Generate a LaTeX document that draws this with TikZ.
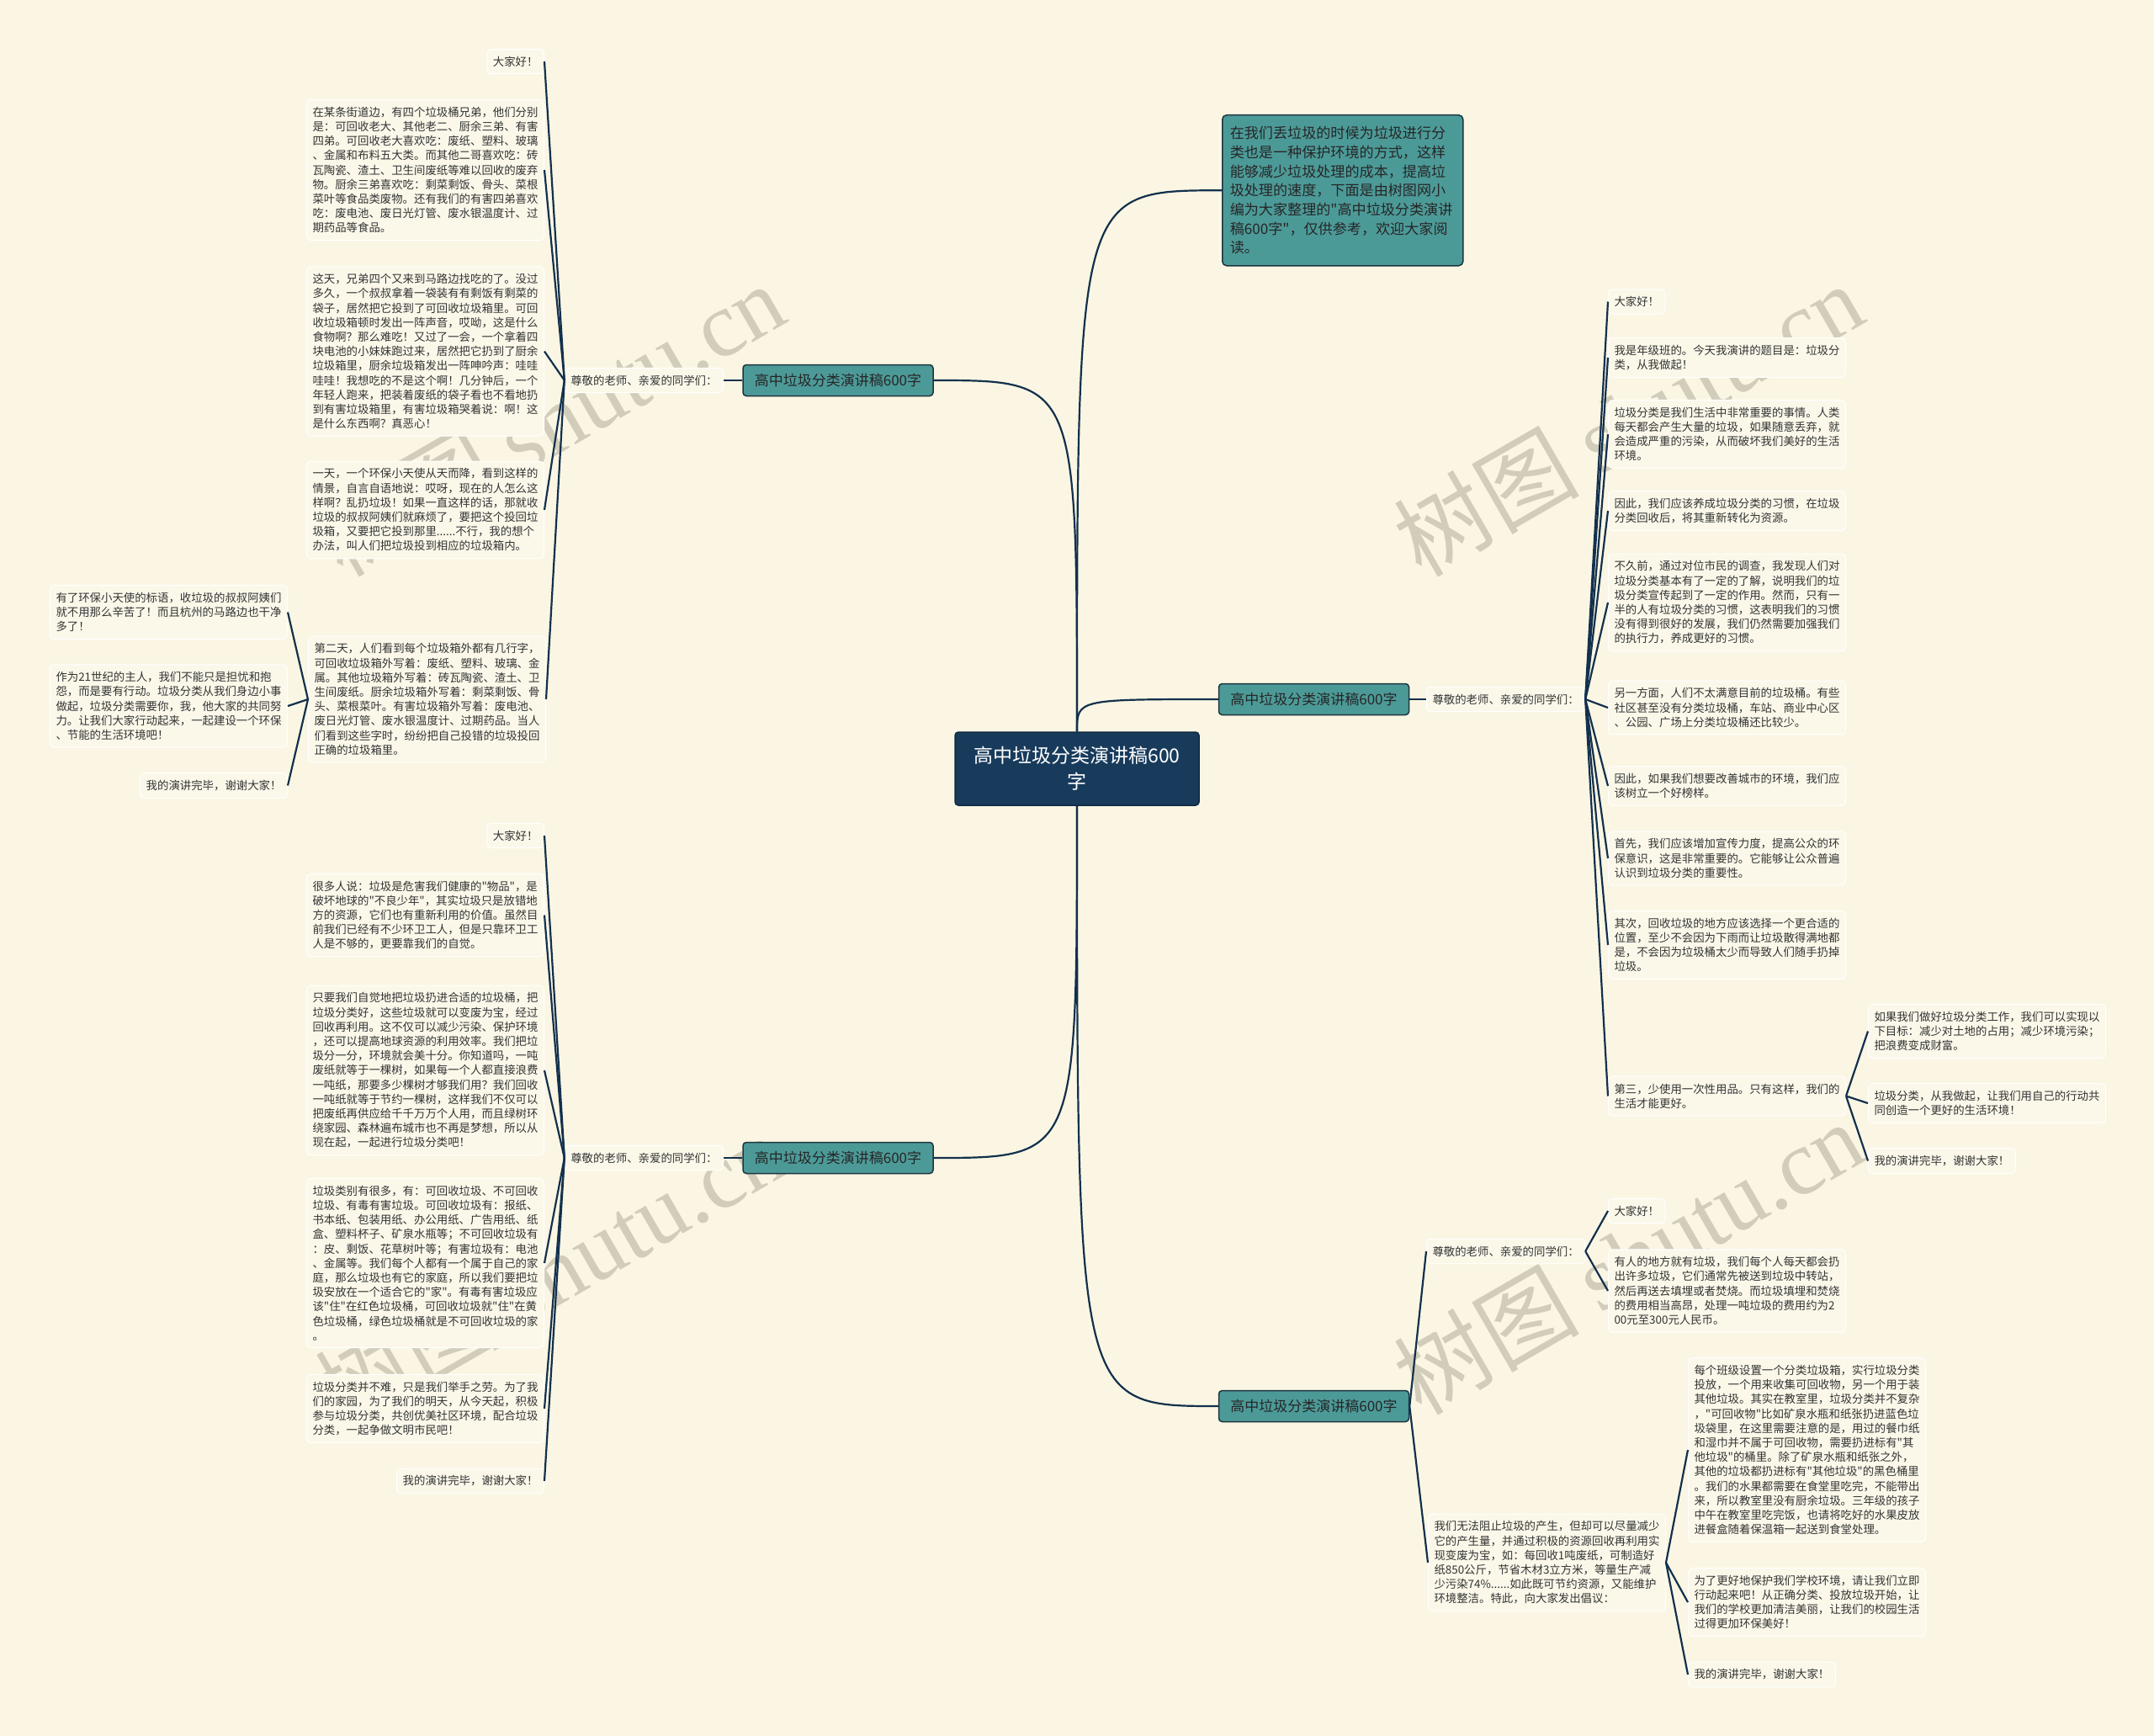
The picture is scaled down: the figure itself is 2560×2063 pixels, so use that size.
\documentclass[tikz,border=0pt]{standalone}
\usepackage{fontspec}
\newfontfamily\cjk{Noto Sans CJK SC}
\newfontfamily\wmserif{Liberation Serif}
\usetikzlibrary{calc}
\definecolor{bg}{HTML}{FAF6E3}
\definecolor{leaffill}{HTML}{FBF8EA}
\definecolor{leafline}{HTML}{FFFFFF}
\definecolor{conncol}{HTML}{13304D}
\definecolor{rootfill}{HTML}{183B5C}
\definecolor{tealfill}{HTML}{4C9A98}
\definecolor{tealline}{HTML}{1E3440}
\definecolor{txt}{HTML}{333333}
\definecolor{wm}{HTML}{D2CDBB}
\newcommand\sconn[2]{\draw[conn] (#1) .. controls ($(#1)!.5!(#2)$ |- #1) and ($(#1)!.5!(#2)$ |- #2) .. (#2);}
\newcommand\rconn[2]{\draw[conn] (#1) .. controls (#1 |- #2) .. (#2);}
\begin{document}
\begin{tikzpicture}[x=1pt,y=-1pt,
 leaf/.style={draw=leafline, line width=1pt, fill=leaffill, rounded corners=5pt, align=left, inner xsep=7pt, inner ysep=8.5pt, text=txt, font=\cjk\fontsize{13.4}{17.2}\selectfont},
 branch/.style={draw=tealline, line width=1.5pt, fill=tealfill, rounded corners=4pt, minimum width=226pt, minimum height=37pt, inner sep=2pt, text=black!85, font=\cjk\fontsize{17}{20}\selectfont},
 rootbox/.style={draw=rootfill!70!black, line width=1.5pt, fill=rootfill, rounded corners=4pt, minimum width=290pt, minimum height=87pt, align=center, text=white, font=\cjk\fontsize{23}{31}\selectfont},
 introbox/.style={draw=tealline, line width=1.5pt, fill=tealfill, rounded corners=5pt, text width=268pt, align=left, inner xsep=9pt, inner ysep=10pt, minimum height=179pt, text=black!85, font=\cjk\fontsize{17.1}{22.7}\selectfont},
 conn/.style={draw=conncol, line width=2.2pt},
 wmk/.style={text=wm, rotate=30, font=\fontsize{110}{120}\selectfont}
]
\fill[bg] (0,0) rectangle (2560,2063);
\useasboundingbox (0,0) rectangle (2560,2063);

% watermarks
\node[wmk] (w1) at (653,498) {\cjk 树图 \wmserif shutu.cn};
\node[wmk] (w2) at (653,1510) {\cjk 树图 \wmserif shutu.cn};
\node[wmk] (w3) at (1935,498) {\cjk 树图 \wmserif shutu.cn};
\node[wmk] (w4) at (1935,1494) {\cjk 树图 \wmserif shutu.cn};

% root, intro, branches
\node[rootbox] (root) at (1280,913.5) {高中垃圾分类演讲稿600\\字};
\node[introbox, anchor=north west] (intro) at (1452,136) {在我们丢垃圾的时候为垃圾进行分\\类也是一种保护环境的方式，这样\\能够减少垃圾处理的成本，提高垃\\圾处理的速度，下面是由树图网小\\编为大家整理的"高中垃圾分类演讲\\稿600字"，仅供参考，欢迎大家阅\\读。};
\node[branch] (b1) at (996,452) {高中垃圾分类演讲稿600字};
\node[branch] (b2) at (1561.5,831) {高中垃圾分类演讲稿600字};
\node[branch] (b3) at (996,1376) {高中垃圾分类演讲稿600字};
\node[branch] (b4) at (1561.5,1671) {高中垃圾分类演讲稿600字};

% sub nodes
\node[leaf, anchor=east] (s1) at (860,452) {尊敬的老师、亲爱的同学们：};
\node[leaf, anchor=west] (s2) at (1695,831) {尊敬的老师、亲爱的同学们：};
\node[leaf, anchor=east] (s3) at (860,1376) {尊敬的老师、亲爱的同学们：};
\node[leaf, anchor=west] (s4a) at (1695,1487) {尊敬的老师、亲爱的同学们：};
\node[leaf, anchor=west] (s4b) at (1697,1857) {我们无法阻止垃圾的产生，但却可以尽量减少\\它的产生量，并通过积极的资源回收再利用实\\现变废为宝，如：每回收1吨废纸，可制造好\\纸850公斤，节省木材3立方米，等量生产减\\少污染74\%......如此既可节约资源，又能维护\\环境整洁。特此，向大家发出倡议：};

% left group 1
\node[leaf, anchor=east] (a1) at (647,73) {大家好！};
\node[leaf, anchor=east] (a2) at (647,202) {在某条街道边，有四个垃圾桶兄弟，他们分别\\是：可回收老大、其他老二、厨余三弟、有害\\四弟。可回收老大喜欢吃：废纸、塑料、玻璃\\、金属和布料五大类。而其他二哥喜欢吃：砖\\瓦陶瓷、渣土、卫生间废纸等难以回收的废弃\\物。厨余三弟喜欢吃：剩菜剩饭、骨头、菜根\\菜叶等食品类废物。还有我们的有害四弟喜欢\\吃：废电池、废日光灯管、废水银温度计、过\\期药品等食品。};
\node[leaf, anchor=east] (a3) at (647,417.5) {这天，兄弟四个又来到马路边找吃的了。没过\\多久，一个叔叔拿着一袋装有有剩饭有剩菜的\\袋子，居然把它投到了可回收垃圾箱里。可回\\收垃圾箱顿时发出一阵声音，哎呦，这是什么\\食物啊？那么难吃！又过了一会，一个拿着四\\块电池的小妹妹跑过来，居然把它扔到了厨余\\垃圾箱里，厨余垃圾箱发出一阵呻吟声：哇哇\\哇哇！我想吃的不是这个啊！几分钟后，一个\\年轻人跑来，把装着废纸的袋子看也不看地扔\\到有害垃圾箱里，有害垃圾箱哭着说：啊！这\\是什么东西啊？真恶心！};
\node[leaf, anchor=east] (a4) at (647,606) {一天，一个环保小天使从天而降，看到这样的\\情景，自言自语地说：哎呀，现在的人怎么这\\样啊？乱扔垃圾！如果一直这样的话，那就收\\垃圾的叔叔阿姨们就麻烦了，要把这个投回垃\\圾箱，又要把它投到那里......不行，我的想个\\办法，叫人们把垃圾投到相应的垃圾箱内。};
\node[leaf, anchor=east] (a5) at (649,831) {第二天，人们看到每个垃圾箱外都有几行字，\\可回收垃圾箱外写着：废纸、塑料、玻璃、金\\属。其他垃圾箱外写着：砖瓦陶瓷、渣土、卫\\生间废纸。厨余垃圾箱外写着：剩菜剩饭、骨\\头、菜根菜叶。有害垃圾箱外写着：废电池、\\废日光灯管、废水银温度计、过期药品。当人\\们看到这些字时，纷纷把自己投错的垃圾投回\\正确的垃圾箱里。};
\node[leaf, anchor=east] (a6) at (342,727.5) {有了环保小天使的标语，收垃圾的叔叔阿姨们\\就不用那么辛苦了！而且杭州的马路边也干净\\多了！};
\node[leaf, anchor=east] (a7) at (342,839) {作为21世纪的主人，我们不能只是担忧和抱\\怨，而是要有行动。垃圾分类从我们身边小事\\做起，垃圾分类需要你，我，他大家的共同努\\力。让我们大家行动起来，一起建设一个环保\\、节能的生活环境吧！};
\node[leaf, anchor=east] (a8) at (342,933.5) {我的演讲完毕，谢谢大家！};

% left group 3
\node[leaf, anchor=east] (c1) at (647,993) {大家好！};
\node[leaf, anchor=east] (c2) at (647,1087.5) {很多人说：垃圾是危害我们健康的"物品"，是\\破坏地球的"不良少年"，其实垃圾只是放错地\\方的资源，它们也有重新利用的价值。虽然目\\前我们已经有不少环卫工人，但是只靠环卫工\\人是不够的，更要靠我们的自觉。};
\node[leaf, anchor=east] (c3) at (647,1272) {只要我们自觉地把垃圾扔进合适的垃圾桶，把\\垃圾分类好，这些垃圾就可以变废为宝，经过\\回收再利用。这不仅可以减少污染、保护环境\\，还可以提高地球资源的利用效率。我们把垃\\圾分一分，环境就会美十分。你知道吗，一吨\\废纸就等于一棵树，如果每一个人都直接浪费\\一吨纸，那要多少棵树才够我们用？我们回收\\一吨纸就等于节约一棵树，这样我们不仅可以\\把废纸再供应给千千万万个人用，而且绿树环\\绕家园、森林遍布城市也不再是梦想，所以从\\现在起，一起进行垃圾分类吧！};
\node[leaf, anchor=east] (c4) at (647,1501) {垃圾类别有很多，有：可回收垃圾、不可回收\\垃圾、有毒有害垃圾。可回收垃圾有：报纸、\\书本纸、包装用纸、办公用纸、广告用纸、纸\\盒、塑料杯子、矿泉水瓶等；不可回收垃圾有\\：皮、剩饭、花草树叶等；有害垃圾有：电池\\、金属等。我们每个人都有一个属于自己的家\\庭，那么垃圾也有它的家庭，所以我们要把垃\\圾安放在一个适合它的"家"。有毒有害垃圾应\\该"住"在红色垃圾桶，可回收垃圾就"住"在黄\\色垃圾桶，绿色垃圾桶就是不可回收垃圾的家\\。};
\node[leaf, anchor=east] (c5) at (647,1674) {垃圾分类并不难，只是我们举手之劳。为了我\\们的家园，为了我们的明天，从今天起，积极\\参与垃圾分类，共创优美社区环境，配合垃圾\\分类，一起争做文明市民吧！};
\node[leaf, anchor=east] (c6) at (647,1760) {我的演讲完毕，谢谢大家！};

% right group 2
\node[leaf, anchor=west] (r1) at (1911,358.5) {大家好！};
\node[leaf, anchor=west] (r2) at (1911,425) {我是年级班的。今天我演讲的题目是：垃圾分\\类，从我做起！};
\node[leaf, anchor=west] (r3) at (1911,516) {垃圾分类是我们生活中非常重要的事情。人类\\每天都会产生大量的垃圾，如果随意丢弃，就\\会造成严重的污染，从而破坏我们美好的生活\\环境。};
\node[leaf, anchor=west] (r4) at (1911,607) {因此，我们应该养成垃圾分类的习惯，在垃圾\\分类回收后，将其重新转化为资源。};
\node[leaf, anchor=west] (r5) at (1911,716) {不久前，通过对位市民的调查，我发现人们对\\垃圾分类基本有了一定的了解，说明我们的垃\\圾分类宣传起到了一定的作用。然而，只有一\\半的人有垃圾分类的习惯，这表明我们的习惯\\没有得到很好的发展，我们仍然需要加强我们\\的执行力，养成更好的习惯。};
\node[leaf, anchor=west] (r6) at (1911,841) {另一方面，人们不太满意目前的垃圾桶。有些\\社区甚至没有分类垃圾桶，车站、商业中心区\\、公园、广场上分类垃圾桶还比较少。};
\node[leaf, anchor=west] (r7) at (1911,934) {因此，如果我们想要改善城市的环境，我们应\\该树立一个好榜样。};
\node[leaf, anchor=west] (r8) at (1911,1020) {首先，我们应该增加宣传力度，提高公众的环\\保意识，这是非常重要的。它能够让公众普遍\\认识到垃圾分类的重要性。};
\node[leaf, anchor=west] (r9) at (1911,1123) {其次，回收垃圾的地方应该选择一个更合适的\\位置，至少不会因为下雨而让垃圾散得满地都\\是，不会因为垃圾桶太少而导致人们随手扔掉\\垃圾。};
\node[leaf, anchor=west] (r10) at (1911,1302.5) {第三，少使用一次性用品。只有这样，我们的\\生活才能更好。};
\node[leaf, anchor=west] (r11) at (2220,1225.5) {如果我们做好垃圾分类工作，我们可以实现以\\下目标：减少对土地的占用；减少环境污染；\\把浪费变成财富。};
\node[leaf, anchor=west] (r12) at (2220,1311) {垃圾分类，从我做起，让我们用自己的行动共\\同创造一个更好的生活环境！};
\node[leaf, anchor=west] (r13) at (2220,1379.5) {我的演讲完毕，谢谢大家！};

% right group 4
\node[leaf, anchor=west] (d1) at (1911,1439) {大家好！};
\node[leaf, anchor=west] (d2) at (1911,1534) {有人的地方就有垃圾，我们每个人每天都会扔\\出许多垃圾，它们通常先被送到垃圾中转站，\\然后再送去填埋或者焚烧。而垃圾填埋和焚烧\\的费用相当高昂，处理一吨垃圾的费用约为2\\00元至300元人民币。};
\node[leaf, anchor=west] (d3) at (2006,1723) {每个班级设置一个分类垃圾箱，实行垃圾分类\\投放，一个用来收集可回收物，另一个用于装\\其他垃圾。其实在教室里，垃圾分类并不复杂\\，"可回收物"比如矿泉水瓶和纸张扔进蓝色垃\\圾袋里，在这里需要注意的是，用过的餐巾纸\\和湿巾并不属于可回收物，需要扔进标有"其\\他垃圾"的桶里。除了矿泉水瓶和纸张之外，\\其他的垃圾都扔进标有"其他垃圾"的黑色桶里\\。我们的水果都需要在食堂里吃完，不能带出\\来，所以教室里没有厨余垃圾。三年级的孩子\\中午在教室里吃完饭，也请将吃好的水果皮放\\进餐盒随着保温箱一起送到食堂处理。};
\node[leaf, anchor=west] (d4) at (2006,1904) {为了更好地保护我们学校环境，请让我们立即\\行动起来吧！从正确分类、投放垃圾开始，让\\我们的学校更加清洁美丽，让我们的校园生活\\过得更加环保美好！};
\node[leaf, anchor=west] (d5) at (2006,1990) {我的演讲完毕，谢谢大家！};

% connectors: root to intro and branches
\rconn{root.north}{intro.west}
\rconn{root.north}{b1.east}
\rconn{root.north}{b2.west}
\rconn{root.south}{b3.east}
\rconn{root.south}{b4.west}

% branch to sub
\draw[conn] (b1.west) -- (s1.east);
\draw[conn] (b2.east) -- (s2.west);
\draw[conn] (b3.west) -- (s3.east);
\sconn{b4.east}{s4a.west}
\sconn{b4.east}{s4b.west}

% left group 1
\foreach \n in {a1,a2,a3,a4,a5} {\sconn{s1.west}{\n.east}}
\foreach \n in {a6,a7,a8} {\sconn{a5.west}{\n.east}}
% left group 3
\foreach \n in {c1,c2,c3,c4,c5,c6} {\sconn{s3.west}{\n.east}}
% right group 2
\foreach \n in {r1,r2,r3,r4,r5,r6,r7,r8,r9,r10} {\sconn{s2.east}{\n.west}}
\foreach \n in {r11,r12,r13} {\sconn{r10.east}{\n.west}}
% right group 4
\foreach \n in {d1,d2} {\sconn{s4a.east}{\n.west}}
\foreach \n in {d3,d4,d5} {\sconn{s4b.east}{\n.west}}
\end{tikzpicture}
\end{document}
